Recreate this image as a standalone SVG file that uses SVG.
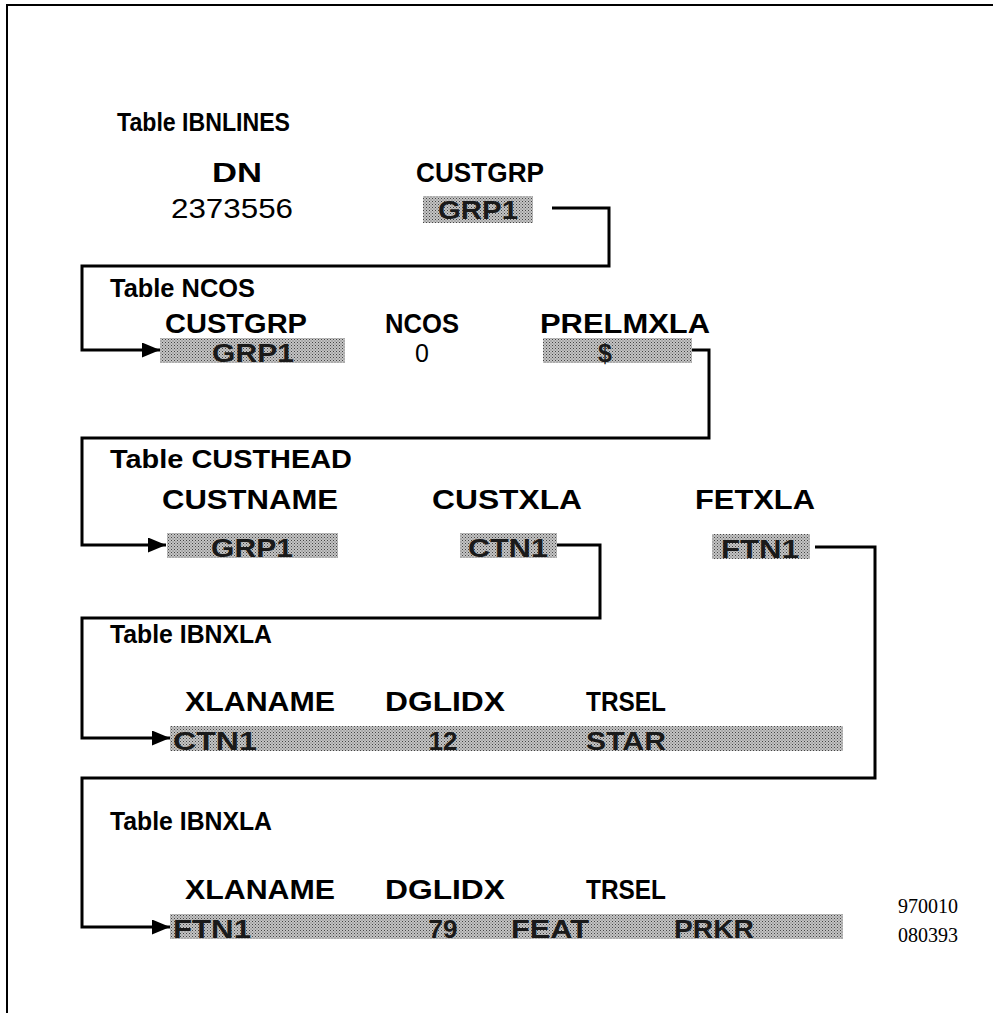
<svg xmlns="http://www.w3.org/2000/svg" width="993" height="1013" viewBox="0 0 993 1013">
<defs>
<pattern id="dots" width="3" height="3" patternUnits="userSpaceOnUse">
<rect width="3" height="3" fill="#c4c4c4"/>
<rect x="0" y="0" width="1" height="1" fill="#444"/>
<rect x="1.5" y="1.5" width="1" height="1" fill="#666"/>
</pattern>
<marker id="arr" markerWidth="18" markerHeight="15" refX="18" refY="7.5" orient="auto" markerUnits="userSpaceOnUse">
<path d="M0,0 L18,7.5 L0,15 Z" fill="#000"/>
</marker>
</defs>
<style>
.t{font-family:"Liberation Sans",Arial,sans-serif;font-weight:bold;font-size:26px;fill:#000}
.h{font-family:"Liberation Sans",Arial,sans-serif;font-weight:bold;font-size:27px;fill:#000;text-anchor:middle}
.v{font-family:"Liberation Sans",Arial,sans-serif;font-weight:bold;font-size:26px;fill:#1a1a1a;text-anchor:middle}
.n{font-family:"Liberation Sans",Arial,sans-serif;font-size:27px;fill:#000;text-anchor:middle}
.s{fill:url(#dots)}
.c{fill:none;stroke:#000;stroke-width:3}
.f{font-family:"Liberation Serif","Times New Roman",serif;font-size:20px;fill:#000}
</style>
<rect width="993" height="1013" fill="#fff"/>
<path d="M7,1013 L7,5 L993,5" fill="none" stroke="#000" stroke-width="2"/>

<g id="connectors">
<path class="c" d="M552,208 H609 V266 H82 V350 H160" marker-end="url(#arr)"/>
<path class="c" d="M692,350 H709 V438 H82 V545 H166" marker-end="url(#arr)"/>
<path class="c" d="M557,545 H600 V618 H82 V738 H170" marker-end="url(#arr)"/>
<path class="c" d="M815,547 H875 V778 H82 V927 H170" marker-end="url(#arr)"/>
</g>

<g id="ibnlines">
<text class="t" x="117" y="131" textLength="173" lengthAdjust="spacingAndGlyphs">Table IBNLINES</text>
<text class="h" x="237" y="182" textLength="50" lengthAdjust="spacingAndGlyphs">DN</text>
<text class="h" x="480" y="182" textLength="128" lengthAdjust="spacingAndGlyphs">CUSTGRP</text>
<text class="n" x="232" y="218" textLength="122" lengthAdjust="spacingAndGlyphs">2373556</text>
<rect class="s" x="423" y="196" width="110" height="27"/>
<text class="v" x="478" y="219" textLength="80" lengthAdjust="spacingAndGlyphs">GRP1</text>
</g>

<g id="ncos">
<text class="t" x="110" y="297" textLength="145" lengthAdjust="spacingAndGlyphs">Table NCOS</text>
<text class="h" x="236" y="333" textLength="142" lengthAdjust="spacingAndGlyphs">CUSTGRP</text>
<text class="h" x="422" y="333" textLength="74" lengthAdjust="spacingAndGlyphs">NCOS</text>
<text class="h" x="625" y="333" textLength="170" lengthAdjust="spacingAndGlyphs">PRELMXLA</text>
<rect class="s" x="160" y="338" width="185" height="25"/>
<text class="v" x="253" y="362" style="font-size:25px" textLength="82" lengthAdjust="spacingAndGlyphs">GRP1</text>
<text class="n" x="422" y="362" style="font-size:25px">0</text>
<rect class="s" x="543" y="338" width="149" height="25"/>
<text class="v" x="605" y="362" style="font-size:25px">$</text>
</g>

<g id="custhead">
<text class="t" x="110" y="468" textLength="242" lengthAdjust="spacingAndGlyphs">Table CUSTHEAD</text>
<text class="h" x="250" y="509" textLength="176" lengthAdjust="spacingAndGlyphs">CUSTNAME</text>
<text class="h" x="507" y="509" textLength="150" lengthAdjust="spacingAndGlyphs">CUSTXLA</text>
<text class="h" x="755" y="509" textLength="120" lengthAdjust="spacingAndGlyphs">FETXLA</text>
<rect class="s" x="167" y="533" width="171" height="25"/>
<text class="v" x="252" y="557" textLength="82" lengthAdjust="spacingAndGlyphs">GRP1</text>
<rect class="s" x="460" y="533" width="97" height="25"/>
<text class="v" x="508" y="557" textLength="80" lengthAdjust="spacingAndGlyphs">CTN1</text>
<rect class="s" x="712" y="534" width="98" height="25"/>
<text class="v" x="760" y="558" textLength="78" lengthAdjust="spacingAndGlyphs">FTN1</text>
</g>

<g id="ibnxla1">
<text class="t" x="110" y="643" textLength="162" lengthAdjust="spacingAndGlyphs">Table IBNXLA</text>
<text class="h" x="260" y="711" textLength="150" lengthAdjust="spacingAndGlyphs">XLANAME</text>
<text class="h" x="445" y="711" textLength="120" lengthAdjust="spacingAndGlyphs">DGLIDX</text>
<text class="h" x="626" y="711" textLength="80" lengthAdjust="spacingAndGlyphs">TRSEL</text>
<rect class="s" x="170" y="726" width="673" height="25"/>
<text class="v" x="215" y="750" textLength="84" lengthAdjust="spacingAndGlyphs">CTN1</text>
<text class="v" x="443" y="750">12</text>
<text class="v" x="626" y="750" textLength="80" lengthAdjust="spacingAndGlyphs">STAR</text>
</g>

<g id="ibnxla2">
<text class="t" x="110" y="830" textLength="162" lengthAdjust="spacingAndGlyphs">Table IBNXLA</text>
<text class="h" x="260" y="899" textLength="150" lengthAdjust="spacingAndGlyphs">XLANAME</text>
<text class="h" x="445" y="899" textLength="120" lengthAdjust="spacingAndGlyphs">DGLIDX</text>
<text class="h" x="626" y="899" textLength="80" lengthAdjust="spacingAndGlyphs">TRSEL</text>
<rect class="s" x="170" y="914" width="673" height="25"/>
<text class="v" x="212" y="938" textLength="78" lengthAdjust="spacingAndGlyphs">FTN1</text>
<text class="v" x="443" y="938">79</text>
<text class="v" x="550" y="938" textLength="78" lengthAdjust="spacingAndGlyphs">FEAT</text>
<text class="v" x="714" y="938" textLength="80" lengthAdjust="spacingAndGlyphs">PRKR</text>
</g>

<g id="ref">
<text class="f" x="898" y="913">970010</text>
<text class="f" x="898" y="942">080393</text>
</g>
</svg>
